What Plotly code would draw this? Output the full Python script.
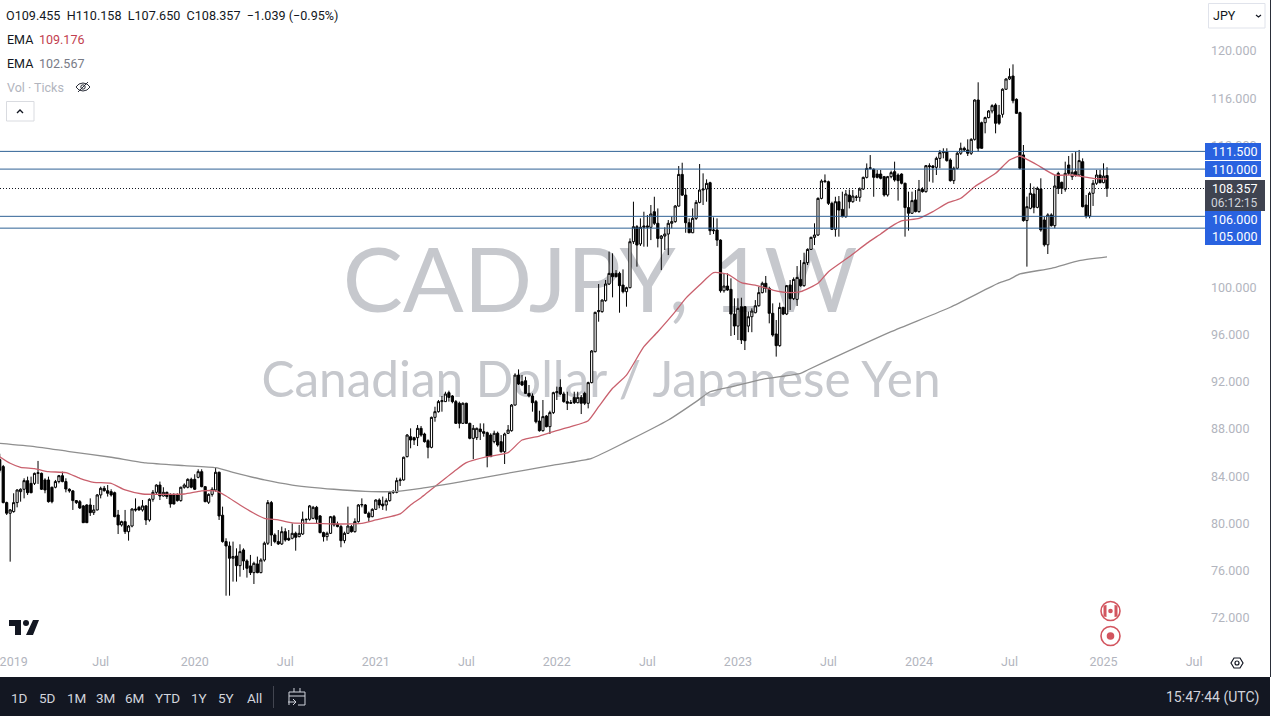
import pandas as pd
import plotly.graph_objects as go

LAST_WEEK = "2025-01-06"

opens = [85.4,
84.81,81.76,80.86,81.00,81.76,82.69,82.89,83.62,83.39,83.39,
84.24,84.24,83.68,83.68,83.06,83.06,83.54,84.04,83.54,82.89,
82.75,81.93,81.84,81.48,81.56,81.56,80.91,81.14,82.41,82.97,
82.77,82.69,82.60,80.71,79.87,80.15,79.30,79.78,81.22,81.36,
81.14,81.48,80.29,82.04,82.63,83.25,82.32,82.63,82.41,82.41,
82.41,81.93,83.06,83.06,83.73,83.73,83.90,84.38,83.11,81.79,
82.46,82.83,84.33,80.69,78.46,78.09,77.05,77.24,76.42,77.75,
76.82,76.40,75.83,76.57,75.83,76.90,78.32,81.76,79.02,78.46,
78.26,79.30,78.74,78.74,79.16,78.88,79.10,80.35,80.35,80.43,
81.36,80.63,79.22,78.88,79.16,80.57,79.95,79.73,78.54,79.16,
79.73,79.30,80.15,81.56,81.56,80.86,80.57,81.19,81.98,81.64,
81.56,81.93,82.63,82.63,83.62,83.68,85.65,87.34,87.26,87.26,
88.05,87.57,87.0,86.44,88.98,89.46,90.31,90.31,91.07,90.79,
90.31,90.17,88.47,90.17,88.47,87.20,87.26,87.99,87.77,87.68,
87.48,86.92,87.63,86.92,86.07,87.63,87.85,90.02,92.56,92.0,
92.08,91.01,90.79,90.31,88.67,87.85,89.09,88.19,89.38,91.07,
91.52,90.96,90.31,90.17,90.67,90.22,90.67,91.01,90.17,91.92,
94.54,97.93,97.93,98.86,100.27,101.17,101.17,101.17,100.18,99.62,
99.96,103.85,105.12,103.66,105.07,105.07,105.07,106.39,105.41,104.13,
104.33,104.50,105.41,105.55,106.87,109.55,107.80,105.46,104.61,105.83,
107.18,108.23,108.31,108.85,104.78,104.84,103.99,99.70,100.10,99.82,
97.73,96.71,98.35,98.35,96.71,97.50,97.84,98.43,99.54,100.33,
99.90,97.79,96.04,95.05,98.29,97.73,100.18,99.03,98.97,100.66,
100.13,102.08,103.20,104.22,104.42,107.52,108.93,108.93,107.10,104.90,
107.24,106.59,105.97,107.80,107.24,107.60,107.61,108.31,109.30,110.06,
109.98,109.58,109.58,109.36,107.81,109.36,109.78,109.50,109.58,108.80,
106.74,106.26,107.39,106.40,108.29,108.09,110.29,110.26,110.15,110.91,
111.39,111.48,110.77,109.02,110.07,111.34,111.76,111.62,111.34,112.52,
115.85,113.93,113.93,114.36,114.92,115.43,114.58,114.64,116.76,117.63,
117.88,115.91,114.78,111.20,105.64,106.68,107.89,106.76,108.32,105.69,
103.59,106.12,105.21,109.64,108.88,108.29,110.35,109.36,109.78,109.50,
110.63,106.96,106.03,107.95,108.80,109.50,108.85,109.455]

closes = [84.5,
81.76,80.86,81.14,81.76,82.83,82.89,83.62,82.60,82.60,84.24,
84.28,82.89,82.83,81.84,81.84,83.54,84.04,83.54,82.91,82.75,
81.93,81.76,81.31,80.06,80.06,80.91,81.14,82.41,82.97,82.77,
82.55,82.41,80.57,79.87,80.15,79.30,79.78,81.22,81.14,81.14,
81.48,80.29,82.04,82.63,83.25,82.32,82.63,82.27,81.64,81.64,
81.93,83.06,83.25,83.73,83.06,82.89,84.38,83.11,81.84,82.46,
82.89,84.33,80.63,78.46,78.09,77.05,77.19,76.42,77.61,76.82,
76.20,75.83,76.62,75.83,76.90,78.32,81.76,79.02,78.46,78.26,
79.30,78.60,78.60,79.16,78.82,79.16,80.35,80.32,81.48,81.36,
80.35,79.22,78.88,79.16,80.57,79.87,79.73,78.54,79.16,79.78,
79.30,80.15,81.56,81.60,80.86,80.52,81.19,81.98,81.56,81.48,
81.93,82.63,82.66,83.62,83.68,85.60,87.48,87.06,87.06,88.05,
87.48,86.92,86.44,88.98,89.46,90.31,90.39,90.96,90.67,90.31,
88.47,88.47,90.17,88.47,87.20,88.05,88.05,87.77,87.63,85.65,
85.65,87.63,86.64,86.07,87.57,87.91,90.02,92.56,91.80,91.72,
91.01,90.79,90.22,88.61,87.85,89.04,88.19,89.38,91.07,91.15,
90.96,90.31,90.17,90.22,90.22,90.67,90.17,90.17,91.92,94.60,
97.87,98.01,98.91,100.27,101.17,100.89,100.89,100.13,99.62,99.96,
103.85,105.12,103.57,105.07,105.18,105.18,106.20,105.41,104.13,104.33,
104.50,105.41,105.55,106.87,109.55,107.80,105.46,104.61,105.83,107.18,
108.23,108.31,108.79,104.78,104.84,103.99,99.70,100.10,99.76,97.73,
96.71,98.21,95.53,95.47,97.50,97.98,98.43,99.54,100.33,99.90,
97.79,95.95,95.05,98.29,97.73,100.13,99.03,100.66,100.83,100.13,
102.08,103.20,104.22,104.42,107.52,108.99,108.99,107.10,104.90,107.24,
106.53,105.97,107.89,107.24,107.72,107.63,108.31,109.30,110.06,110.10,
109.30,109.30,109.22,107.81,109.36,109.70,109.08,109.02,108.80,106.74,
106.26,107.33,106.40,108.29,108.09,110.29,110.21,110.15,110.91,111.39,
111.48,110.72,109.02,110.07,111.34,111.76,111.62,111.34,112.52,115.85,
111.76,111.76,114.36,114.92,115.37,113.88,113.88,116.76,117.63,117.83,
115.79,114.72,110.07,105.64,106.82,107.95,106.76,108.37,104.85,103.59,
106.12,105.21,108.57,108.37,108.37,109.64,109.64,109.73,109.50,110.72,
106.82,106.03,107.95,108.80,109.50,108.85,109.41,108.357]

highs = [85.9,
84.95,81.84,81.22,82.55,82.89,82.97,83.82,83.96,83.96,84.30,
85.29,84.30,83.82,83.96,83.11,83.68,84.10,84.38,83.82,82.97,
82.83,81.98,81.98,81.56,81.62,82.12,81.56,82.49,83.11,83.17,
83.25,82.89,82.69,81.14,80.23,81.14,79.87,81.28,82.12,81.48,
81.98,81.56,82.12,82.83,83.31,83.54,83.06,82.69,82.55,82.55,
82.55,83.11,83.39,83.82,83.87,84.16,84.58,84.58,83.17,82.55,
83.06,84.75,84.38,81.42,78.74,78.46,78.46,77.89,78.23,77.89,
76.96,77.33,76.76,77.19,77.05,78.46,81.98,81.90,79.16,79.44,
79.73,79.59,79.44,80.0,79.30,79.87,81.0,80.43,81.56,81.48,
81.48,80.71,79.30,79.30,80.63,80.71,80.15,79.87,79.30,81.42,
79.87,80.43,81.64,82.12,81.64,81.0,81.28,82.04,82.12,82.27,
82.12,82.75,82.83,83.87,83.87,85.65,87.57,88.05,87.34,88.33,
88.25,87.68,87.12,89.04,89.88,90.45,90.79,91.15,91.24,90.87,
90.45,90.31,90.25,90.22,88.53,88.33,88.11,88.47,88.47,87.77,
87.63,87.85,87.77,87.48,87.68,88.33,90.11,92.71,93.04,92.56,
92.42,91.72,91.01,90.45,89.54,90.45,89.18,89.54,91.15,91.58,
92.20,91.15,91.15,90.45,91.15,91.15,90.87,91.15,92.0,94.68,
97.93,100.27,98.97,100.61,103.01,102.87,101.45,101.31,101.51,100.04,
104.13,107.24,105.26,105.83,106.39,106.11,106.96,107.66,106.67,104.42,
105.07,105.69,105.97,106.96,110.26,110.54,108.37,105.83,106.67,107.38,
110.43,109.64,109.13,108.93,105.91,105.83,104.05,101.17,101.17,100.75,
99.06,99.06,99.11,98.41,97.93,98.21,98.91,100.04,100.47,100.95,
100.04,98.63,97.22,98.69,98.35,100.18,100.61,100.83,101.79,102.30,
102.92,103.29,104.28,105.41,107.61,109.13,109.55,109.02,107.24,107.66,
107.72,108.09,108.23,108.28,108.23,107.80,108.45,109.36,110.48,111.19,
110.06,109.92,109.93,109.42,109.42,109.87,110.63,109.64,109.64,108.85,
108.09,108.09,108.23,109.08,108.46,110.35,110.49,110.35,111.05,111.62,
111.76,111.76,110.91,110.21,111.48,112.24,111.90,112.52,112.61,115.91,
117.35,114.02,114.44,115.0,115.49,115.57,115.43,116.84,117.69,118.53,
118.87,115.99,114.86,112.04,107.67,108.80,108.51,108.51,109.22,105.97,
106.26,106.26,109.50,109.78,108.94,110.63,111.11,111.34,111.48,111.62,
110.91,107.81,108.09,109.08,109.93,109.93,110.49,110.158]

lows = [84.3,
81.70,80.71,76.76,80.91,81.36,81.84,82.12,82.41,82.55,83.25,
83.34,82.83,82.55,81.76,81.70,82.97,83.39,83.48,82.63,82.60,
81.14,81.64,81.22,80.04,80.04,80.63,80.71,81.10,82.12,82.69,
82.27,82.27,80.52,79.10,79.73,79.10,78.54,79.67,81.00,81.08,
81.00,79.87,80.15,81.84,82.41,81.98,82.27,82.07,81.33,81.62,
81.84,81.84,82.94,82.97,82.97,82.83,83.82,83.06,81.79,81.64,
82.27,82.69,80.29,78.37,73.88,73.88,75.07,75.07,75.49,76.06,
75.41,75.63,74.87,75.78,75.78,76.76,78.17,78.09,78.32,78.17,
78.17,78.46,78.51,78.65,77.69,78.82,79.02,80.0,80.23,80.35,
80.0,79.16,78.46,78.54,79.10,79.73,79.67,77.98,78.32,79.10,
79.22,79.22,80.06,81.36,80.80,80.15,80.52,81.14,81.28,81.14,
81.08,81.84,82.49,82.55,83.17,83.62,85.59,86.36,86.64,86.55,
87.34,86.84,85.51,86.36,88.61,89.38,89.46,90.28,90.31,90.17,
88.42,88.05,88.44,88.42,87.12,85.45,87.06,87.06,87.34,84.75,
85.62,86.78,86.50,85.99,85.03,87.57,87.77,89.97,91.72,91.63,
90.96,90.67,89.46,88.47,87.77,87.77,88.13,87.57,89.26,90.45,
90.87,90.22,89.60,90.11,90.11,90.17,89.26,90.02,89.74,91.86,
94.48,97.08,97.84,98.77,100.18,99.14,100.83,97.84,99.48,98.35,
99.90,103.66,101.74,103.49,103.43,103.43,103.99,105.26,103.37,101.45,
103.15,102.72,104.98,105.46,106.82,107.72,104.61,104.58,104.58,105.69,
107.10,106.96,107.24,104.42,104.50,103.49,99.54,99.54,99.70,95.87,
95.95,95.53,95.19,94.68,96.19,96.19,97.79,98.35,99.48,99.54,
96.94,95.81,94.12,94.96,97.64,97.64,98.07,98.91,98.41,100.04,
100.04,101.88,103.15,103.57,104.33,107.44,108.85,106.96,104.84,104.28,
104.28,105.91,105.88,106.67,107.15,107.3,107.24,108.23,109.21,109.98,
107.66,109.21,109.13,107.67,107.67,109.22,108.94,107.33,108.71,104.28,
104.79,106.20,106.34,106.31,108.01,108.01,108.94,108.85,109.50,110.07,
110.91,110.63,108.94,108.74,109.98,111.20,111.48,111.11,111.20,112.41,
111.48,111.75,113.03,114.30,114.72,113.03,113.74,114.36,116.70,117.54,
115.57,114.67,109.98,105.55,101.74,106.60,106.26,106.68,104.70,103.44,
102.81,105.13,104.99,107.89,107.89,108.09,109.50,109.08,109.36,109.42,
106.76,105.83,105.83,106.88,108.66,108.80,108.80,107.650]

# EMA readings: (bar number, value), bar 0 being the second bar in the list
ema_red_bar = [-1,2,5,9,13,18,22,26,31,35,40,46,52,57,61,64,68,72,75,79,83,90,97,103,107,114,117,120,
130,133,139,145,149,154,158,163,168,171,175,179,184,188,193,196,200,204,208,212,217,221,225,
229,234,237,243,248,252,255,258,263,267,271,275,279,285,289,292,294,297,302,307,313,317]
ema_red_val = [85.65,85.09,84.75,84.64,84.38,84.30,83.82,83.48,83.39,82.83,82.49,82.46,82.49,82.75,82.75,82.32,81.56,80.86,80.43,80.29,80.04,80.0,79.95,80.0,80.29,80.80,81.56,82.18,
84.52,85.14,85.65,85.99,87.06,87.40,87.77,88.19,88.70,89.88,91.44,92.56,94.96,96.23,97.93,99.05,100.18,101.23,101.11,100.38,100.10,99.76,99.56,
99.62,100.33,101.31,102.58,103.71,104.51,105.13,105.61,105.83,106.40,107.10,107.53,108.51,109.64,110.77,111.11,110.83,110.35,109.50,109.50,109.22,109.176]

ema_gray_bar = [-1,9,19,31,41,52,61,66,75,83,95,104,112,120,134,150,158,169,179,191,199,203,210,218,229,231,255,272,286,289,292,301,309,317]
ema_gray_val = [86.78,86.50,86.08,85.60,85.12,84.89,84.72,84.33,83.68,83.25,82.89,82.72,82.69,82.97,83.67,84.52,84.94,85.51,86.92,88.75,90.31,91.15,91.63,92.2,92.71,92.99,96.23,98.3,100.36,100.67,101.12,101.6,102.25,102.567]

levels = [111.5, 110.0, 106.0, 105.0]
last_price = 108.357
price_ticks = list(range(72, 121, 4))
time_tick_dates = ["2018-12-31","2019-06-24","2019-12-30","2020-06-29","2020-12-28","2021-06-28","2021-12-27",
                   "2022-06-27","2022-12-26","2023-06-26","2023-12-25","2024-06-24","2024-12-30","2025-06-30"]
time_tick_text = ["2019","Jul","2020","Jul","2021","Jul","2022","Jul","2023","Jul","2024","Jul","2025","Jul"]
range_buttons = ["1D","5D","1M","3M","6M","YTD","1Y","5Y","All"]
range_button_x = [19,47,76,105,134,167,199,226,254]

W, H = 1271, 716
PW, PH = 1205, 650
BAR_PX = 3.482
RED = "#c9606d"
GRAY_EMA = "#8f8f8f"
LINE_BLUE = "#2f6296"
TAG_BLUE = "#2962e0"
DARK = "#131722"
AXIS_TEXT = "#b2b5be"

def px(x): return x / PW
def py(y): return 1 - y / PH

dates = pd.date_range(end=LAST_WEEK, periods=len(opens), freq="7D")
def d(bar): return dates[bar + 1]
end = pd.Timestamp(LAST_WEEK)
x_lo = end - pd.Timedelta(days=7 * 1107 / BAR_PX)
x_hi = end + pd.Timedelta(days=7 * (PW - 1107) / BAR_PX)
y_hi = 120 + 51 / 11.81
y_lo = 120 - (PH - 51) / 11.81

shapes, annos = [], []

def rect(x0, y0, x1, y1, fill, line=None, lw=1, layer="above"):
    shapes.append(dict(type="rect", xref="paper", yref="paper", x0=px(x0), x1=px(x1), y0=py(y0), y1=py(y1),
                       fillcolor=fill, line=dict(color=line or "rgba(0,0,0,0)", width=lw if line else 0), layer=layer))

def poly(points, fill=None, line=None, lw=1, close=True):
    p = "M " + " L ".join(f"{px(a):.5f} {py(b):.5f}" for a, b in points) + (" Z" if close else "")
    shapes.append(dict(type="path", xref="paper", yref="paper", path=p, fillcolor=fill or "rgba(0,0,0,0)",
                       line=dict(color=line or "rgba(0,0,0,0)", width=lw if line else 0), layer="above"))

def circle(cx, cy, r, fill=None, line=None, lw=1):
    shapes.append(dict(type="circle", xref="paper", yref="paper", x0=px(cx - r), x1=px(cx + r), y0=py(cy + r), y1=py(cy - r),
                       fillcolor=fill or "rgba(0,0,0,0)", line=dict(color=line or "rgba(0,0,0,0)", width=lw if line else 0), layer="above"))

def text(x, y, s, color="#131722", size=12, anchor="left", family="Roboto"):
    annos.append(dict(xref="paper", yref="paper", x=px(x), y=py(y), text=s, showarrow=False, xanchor=anchor, yanchor="middle",
                      align=anchor, font=dict(family=family, size=size, color=color), borderpad=0))

# price levels and last-price line
for lv in levels:
    shapes.append(dict(type="line", xref="paper", yref="y2", x0=0, x1=1, y0=lv, y1=lv, line=dict(color=LINE_BLUE, width=1), layer="above"))
shapes.append(dict(type="line", xref="paper", yref="y2", x0=0, x1=1, y0=last_price, y1=last_price,
                   line=dict(color="#131722", width=1, dash="1px,2px"), layer="above"))

# price tags
rect(1205, 143, 1261, 160, TAG_BLUE)
rect(1205, 161, 1261, 177, TAG_BLUE)
rect(1205, 211, 1261, 228, TAG_BLUE)
rect(1205, 228, 1261, 245, TAG_BLUE)
rect(1205, 180, 1265, 211, "#3f4350")
for y, s in [(151.5, "111.500"), (169, "110.000"), (219.5, "106.000"), (236.5, "105.000")]:
    text(1234, y, s, "#ffffff", 12.5, "center")
text(1234, 188.5, "108.357", "#ffffff", 12.5, "center")
text(1234, 202.5, "06:12:15", "#d1d4dc", 12, "center")

# header legend
text(5, 15.5, "O109.455&nbsp;&nbsp;H110.158&nbsp;&nbsp;L107.650&nbsp;&nbsp;C108.357&nbsp;&nbsp;−1.039&nbsp;(−0.95%)", "#131722", 12.6)
text(5.5, 39.5, "EMA", "#131722", 12.5)
text(37.5, 39.5, "109.176", "#c2404f", 12.5)
text(5.5, 63.5, "EMA", "#131722", 12.5)
text(37.5, 63.5, "102.567", "#787b86", 12.5)
text(5.5, 87.5, "Vol · Ticks", AXIS_TEXT, 12.5)
poly([(76,87),(79,84),(83,83),(87,84),(90,87),(87,90),(83,91),(79,90)], None, "#2a2e39", 1)
circle(83, 87, 2.2, None, "#2a2e39", 1)
poly([(78,92),(88,82)], None, "#2a2e39", 1, close=False)
rect(6.5, 101.5, 34, 121, "#ffffff", "#d9dbe0", 1)
poly([(17,113),(20,110),(23,113)], None, "#131722", 1.4, close=False)

# symbol selector
rect(1208.5, 3.5, 1265, 28, "#ffffff", "#e0e3eb", 1)
text(1212, 15.5, "JPY", "#131722", 12.5)
poly([(1256,15),(1258.5,17),(1261,15)], None, "#131722", 1.2, close=False)

# logo
poly([(9,620),(21,620),(21,635),(15,635),(15,626),(9,626)], "#131722")
circle(26, 623, 3, "#131722")
poly([(33,620),(39,620),(33,635),(26,635)], "#131722")

# event markers
circle(1110.5, 611, 9.5, "#ffffff", "#d2555f", 1.6)
poly([(1103.5,605.5),(1106.5,605),(1106.5,617),(1103.5,616.5)], "#d2555f")
poly([(1114.5,605),(1117.5,605.5),(1117.5,616.5),(1114.5,617)], "#d2555f")
circle(1110.5, 611, 2.3, "#d2555f")
circle(1110.5, 636, 9.5, "#ffffff", "#d2555f", 1.6)
circle(1110.5, 636, 3.8, "#d2555f")

# settings
poly([(1231,663),(1234,658),(1240,658),(1243,663),(1240,668),(1234,668)], None, "#131722", 1.2)
circle(1237, 663, 2, None, "#131722", 1.2)

# window edge and bottom bar
rect(1270, 0, 1271, 677, "#2a2e39")
rect(0, 677, 1270, H, DARK)
for lab, x in zip(range_buttons, range_button_x):
    text(x, 697.5, lab, "#d1d4dc", 13.5, "center")
poly([(273.5,686),(273.5,708)], None, "#434651", 1, close=False)
poly([(289,705),(289,692),(305,692),(305,705),(298,705)], None, "#d1d4dc", 1, close=False)
poly([(289,696),(305,696)], None, "#d1d4dc", 1, close=False)
poly([(294,688),(294,692)], None, "#d1d4dc", 1, close=False)
poly([(300,688),(300,692)], None, "#d1d4dc", 1, close=False)
poly([(288,702),(296,702)], None, "#d1d4dc", 1, close=False)
poly([(293,699),(296,702),(293,705)], None, "#d1d4dc", 1, close=False)
text(1260, 697.5, "15:47:44 (UTC)", "#d1d4dc", 14, "right")

fig = go.Figure()
# watermark on the base axes, below the overlaid candles
WM = "#c6c8cd"
fig.add_trace(go.Scatter(x=[600], y=[PH - 289], mode="text", text=["CADJPY, 1W"], textposition="middle center",
                         textfont=dict(family="Lato", size=90, color=WM), hoverinfo="skip", showlegend=False))
fig.add_trace(go.Scatter(x=[601], y=[PH - 385], mode="text", text=["Canadian Dollar / Japanese Yen"], textposition="middle center",
                         textfont=dict(family="Lato", size=49.5, color=WM), hoverinfo="skip", showlegend=False))
fig.add_trace(go.Candlestick(x=dates, open=opens, high=highs, low=lows, close=closes, xaxis="x2", yaxis="y2",
                             increasing=dict(fillcolor="#ffffff", line=dict(color="#000000", width=1)),
                             decreasing=dict(fillcolor="#000000", line=dict(color="#000000", width=1)),
                             whiskerwidth=0, showlegend=False))
fig.add_trace(go.Scatter(x=[d(b) for b in ema_red_bar], y=ema_red_val, xaxis="x2", yaxis="y2", mode="lines",
                         line=dict(color=RED, width=1.3, shape="spline", smoothing=0.5), hoverinfo="skip", showlegend=False))
fig.add_trace(go.Scatter(x=[d(b) for b in ema_gray_bar], y=ema_gray_val, xaxis="x2", yaxis="y2", mode="lines",
                         line=dict(color=GRAY_EMA, width=1.3, shape="spline", smoothing=0.5), hoverinfo="skip", showlegend=False))

fig.update_layout(
    width=W, height=H, margin=dict(l=0, r=W - PW, t=0, b=H - PH), paper_bgcolor="#ffffff", plot_bgcolor="#ffffff",
    showlegend=False, shapes=shapes, annotations=annos, dragmode=False, boxgap=0.1,
    xaxis=dict(range=[0, PW], visible=False, fixedrange=True),
    yaxis=dict(range=[0, PH], visible=False, fixedrange=True),
    xaxis2=dict(overlaying="x", anchor="y2", type="date", range=[x_lo, x_hi], rangeslider=dict(visible=False), showgrid=False,
                zeroline=False, showline=False, ticks="", tickmode="array", tickvals=time_tick_dates, ticktext=time_tick_text,
                tickangle=0, tickfont=dict(family="Roboto", size=12.5, color=AXIS_TEXT), fixedrange=True, ticklabeloverflow="allow",
                ticklabelstandoff=2),
    yaxis2=dict(overlaying="y", anchor="x2", side="right", range=[y_lo, y_hi], showgrid=False, zeroline=False, showline=False,
                ticks="", tickmode="array", tickvals=price_ticks, ticktext=[f"{v}.000" for v in price_ticks],
                tickfont=dict(family="Roboto", size=12.5, color=AXIS_TEXT), fixedrange=True, ticklabelstandoff=5),
)
fig.write_html("out.html", config=dict(displayModeBar=False),
               post_script="document.body.style.margin='0';document.documentElement.style.overflow='hidden';")
